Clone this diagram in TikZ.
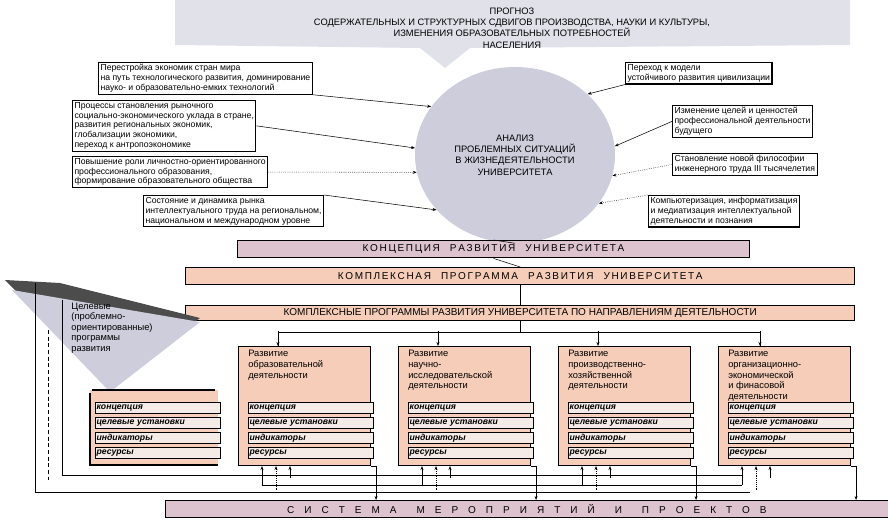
\documentclass[tikz,border=0pt]{standalone}
\usepackage{fontspec}
\setmainfont{Liberation Sans}
\usetikzlibrary{shapes.geometric,positioning,arrows.meta}
\definecolor{salmon}{RGB}{245,205,185}
\definecolor{mauve}{RGB}{220,195,205}
\definecolor{greyblue}{RGB}{205,205,220}
\definecolor{rowc}{RGB}{245,235,230}
\tikzset{
  factor/.style={draw,thick,fill=white,align=left,anchor=north west,inner sep=1.5pt,font=\fontsize{6.5}{7.3}\selectfont},
  bar/.style={draw,thick,anchor=north west,inner sep=0pt,font=\fontsize{7.5}{8}\selectfont},
  dirbox/.style={draw,thick,fill=salmon,anchor=north west,minimum width=99pt,minimum height=89pt,inner sep=0pt},
  dirtext/.style={anchor=north west,align=left,inner sep=0pt,font=\fontsize{7}{8}\selectfont},
  row/.style={draw,fill=rowc,anchor=north west,minimum width=94pt,minimum height=8.5pt,inner sep=1pt,font=\fontsize{6.5}{7}\itshape\bfseries\selectfont,text width=92pt,align=left},
  arr/.style={-{Stealth[length=3pt]}},
  dots/.style={arr,densely dotted}
}
\begin{document}
\begin{tikzpicture}[x=0.75pt,y=-0.75pt]
\useasboundingbox (0,0) rectangle (888,520);
% top banner
\fill[greyblue!60] (175,0) -- (850,0) -- (850,45) -- (470,48) -- (445,68) -- (420,48) -- (175,45) -- cycle;
\node[align=center,font=\fontsize{7}{8.5}\selectfont] (prog) at (512,28) {ПРОГНОЗ\\СОДЕРЖАТЕЛЬНЫХ И СТРУКТУРНЫХ СДВИГОВ ПРОИЗВОДСТВА, НАУКИ И КУЛЬТУРЫ,\\ИЗМЕНЕНИЯ ОБРАЗОВАТЕЛЬНЫХ ПОТРЕБНОСТЕЙ\\НАСЕЛЕНИЯ};
% analysis
\node[ellipse,fill=greyblue,minimum width=150pt,minimum height=132pt,align=center,font=\fontsize{7}{8.5}\selectfont] (anal) at (515,155) {АНАЛИЗ\\ПРОБЛЕМНЫХ СИТУАЦИЙ\\В ЖИЗНЕДЕЯТЕЛЬНОСТИ\\УНИВЕРСИТЕТА};
% factors
\node[factor] (l1) at (98,62) {Перестройка экономик стран мира\\на путь технологического развития, доминирование\\науко- и образовательно-емких технологий};
\node[factor] (l2) at (72,100) {Процессы становления рыночного\\социально-экономического уклада в стране,\\развития региональных экономик,\\глобализации экономики,\\переход к антропоэкономике};
\node[factor] (l3) at (72,156) {Повышение роли личностно-ориентированного\\профессионального образования,\\формирование образовательного общества};
\node[factor] (l4) at (143,195) {Состояние и динамика рынка\\интеллектуального труда на региональном,\\национальном и международном уровне};
\node[factor] (r1) at (625,62) {Переход к модели\\устойчивого развития цивилизации};
\node[factor] (r2) at (672,105) {Изменение целей и ценностей\\профессиональной деятельности\\будущего};
\node[factor] (r3) at (672,153) {Становление новой философии\\инженерного труда III тысячелетия};
\node[factor] (r4) at (648,195) {Компьютеризация, информатизация\\и медиатизация интеллектуальной\\деятельности и познания};
\draw[arr] (l1.south east) -- (anal.150);
\draw[arr] (l2.east) -- (anal.176);
\draw[dots] (l3.east) -- (anal.190);
\draw[arr] (l4.north east) -- (anal.215);
\draw[arr] (r1.south west) -- (anal.40);
\draw[arr] (r2.west) -- (anal.5);
\draw[dots] (r3.west) -- (anal.348);
\draw[dots] (r4.north west) -- (anal.330);
% bars
\node[bar,fill=mauve,minimum width=384pt,minimum height=13pt] (conc) at (237,240) {К\,О\,Н\,Ц\,Е\,П\,Ц\,И\,Я\quad Р\,А\,З\,В\,И\,Т\,И\,Я\quad У\,Н\,И\,В\,Е\,Р\,С\,И\,Т\,Е\,Т\,А};
\node[bar,fill=salmon,minimum width=502pt,minimum height=13pt] (kprog) at (185,267) {К\,О\,М\,П\,Л\,Е\,К\,С\,Н\,А\,Я\quad П\,Р\,О\,Г\,Р\,А\,М\,М\,А\quad Р\,А\,З\,В\,И\,Т\,И\,Я\quad У\,Н\,И\,В\,Е\,Р\,С\,И\,Т\,Е\,Т\,А};
\node[bar,fill=salmon,minimum width=502pt,minimum height=11pt] (kprogs) at (185,305) {КОМПЛЕКСНЫЕ ПРОГРАММЫ РАЗВИТИЯ УНИВЕРСИТЕТА ПО НАПРАВЛЕНИЯМ ДЕЯТЕЛЬНОСТИ};
\node[bar,fill=mauve,minimum width=542pt,minimum height=13pt] (sys) at (165,500) {С\quad И\quad С\quad Т\quad Е\quad М\quad А\qquad М\quad Е\quad Р\quad О\quad П\quad Р\quad И\quad Я\quad Т\quad И\quad Й\qquad И\qquad П\quad Р\quad О\quad Е\quad К\quad Т\quad О\quad В};
\draw (anal.south) -- (conc.north);
\draw (conc.south) -- (kprog.north);
\draw (kprog.south) -- (kprogs.north);
% targeted programs
\fill[black!70] (5,280) -- (60,283) -- (200,318) -- (110,385) -- cycle;
\fill[greyblue] (12,290) -- (200,322) -- (110,392) -- cycle;
\node[align=left,font=\fontsize{7}{7.8}\selectfont] (tgt) at (112,328) {Целевые\\(проблемно-\\ориентированные)\\программы\\развития};
\fill[salmon] (90,390) rectangle (218,465);
\draw[thick] (90,393) -- (90,465) -- (218,465);
\draw[very thick] (92,390) -- (215,390);
\foreach \t [count=\i from 0] in {концепция,целевые установки,индикаторы,ресурсы}
  \node[row] (t\i) at (95,402+15*\i) {\t};
% direction boxes
\foreach \x/\t [count=\k] in {238/{Развитие\\образовательной\\деятельности},
  398/{Развитие\\научно-\\исследовательской\\деятельности},
  558/{Развитие\\производственно-\\хозяйственной\\деятельности},
  718/{Развитие\\организационно-\\экономической\\и финасовой\\деятельности}}{
  \node[dirbox] (d\k) at (\x,346) {};
  \node[dirtext] (d\k t) at (\x+10,350) {\t};
  \foreach \r [count=\i from 0] in {концепция,целевые установки,индикаторы,ресурсы}
    \node[row] (d\k r\i) at (\x+10,402+15*\i) {\r};
}
% connections
\draw (kprogs.south) -- ++(0,12) coordinate (hub);
\draw (d1.north -| 278,0) |- (hub) -| (d4.north -| 760,0);
\foreach \k/\xa in {1/278,2/438,3/598,4/760}
  \draw[arr] (\xa,331) -- (d\k.north -| \xa,0);
\foreach \k in {1,2,3,4}
  \draw[arr] (d\k.north east) ++(0,120) -- ++(5,0) coordinate (c\k) -- (c\k |- sys.north);
\foreach \k/\xa in {1/262,2/422,3/582,4/742}{
  \draw[arr] (\xa,485) -- (\xa,466);
  \draw[dots] (\xa+14,490) -- (\xa+14,466);
  \draw[arr] (\xa+28,478) -- (\xa+28,466);
}
\draw (62,300) -- (62,475) -- (742,475) -- (742,485);
\draw (35,283) -- (35,492) -- (750,492);
\draw[densely dashed] (48,330) -- (48,480);
\draw (262,485) -- (742,485);
\end{tikzpicture}
\end{document}
